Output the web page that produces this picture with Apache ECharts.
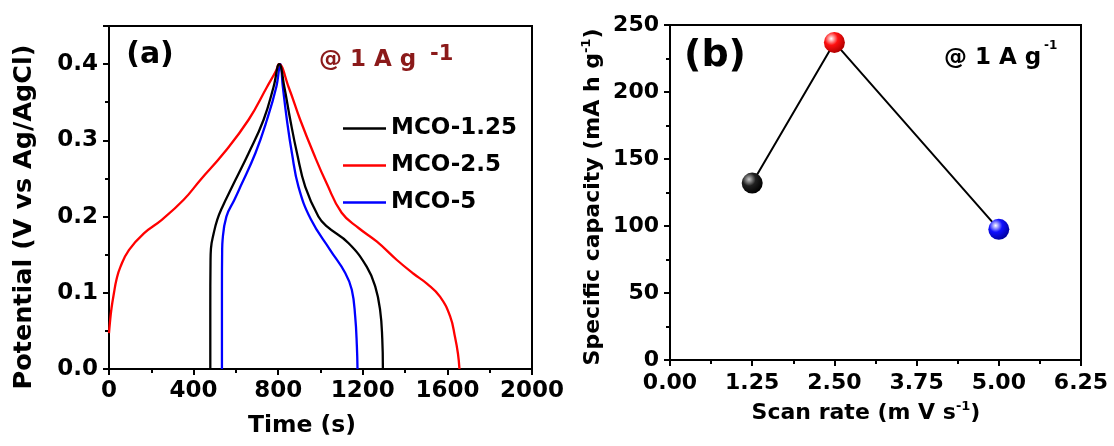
<!DOCTYPE html>
<html>
<head>
<meta charset="utf-8">
<script src="https://cdn.jsdelivr.net/npm/echarts@6/dist/echarts.min.js"></script>
<style>
html,body{margin:0;padding:0;background:#fff;}
#c{width:1114px;height:446px;}
</style>
</head>
<body>
<div id="c"></div>
<script>
// ---------- DATA ----------
const seriesNames = ['MCO-1.25', 'MCO-2.5', 'MCO-5'];

const timeBlack = [479, 479, 480, 482, 495, 512, 535, 582, 660, 731, 778, 805, 829, 857, 889, 928, 990, 1030, 1133, 1219, 1259, 1282, 1292, 1295];
const potBlack  = [0, 0.08, 0.14, 0.158, 0.178, 0.196, 0.212, 0.239, 0.283, 0.327, 0.37, 0.4, 0.37, 0.327, 0.283, 0.239, 0.2, 0.187, 0.165, 0.134, 0.108, 0.077, 0.04, 0];

const timeRed = [0, 4, 12, 23, 36, 54, 94, 165, 251, 353, 432, 542, 660, 747, 791, 803, 849, 904, 967, 1030, 1100, 1180, 1267, 1361, 1440, 1503, 1565, 1613, 1636, 1650, 1657];
const potRed  = [0.047, 0.06, 0.08, 0.099, 0.118, 0.134, 0.156, 0.178, 0.196, 0.222, 0.248, 0.283, 0.327, 0.37, 0.392, 0.4, 0.37, 0.327, 0.283, 0.243, 0.205, 0.185, 0.167, 0.143, 0.125, 0.112, 0.095, 0.069, 0.042, 0.02, 0];

const timeBlue = [534, 534, 535, 537, 555, 593, 621, 692, 747, 791, 810, 822, 841, 865, 896, 955, 1046, 1117, 1148, 1164, 1172, 1175];
const potBlue  = [0, 0.1, 0.155, 0.169, 0.2, 0.222, 0.239, 0.283, 0.327, 0.37, 0.4, 0.37, 0.327, 0.283, 0.239, 0.196, 0.156, 0.126, 0.104, 0.069, 0.03, 0];

const scanRate = [1.25, 2.5, 5.0];
const capacity = [132, 237, 97.5];

const timeTicks = [0, 400, 800, 1200, 1600, 2000];
const potTicks = ['0.0', '0.1', '0.2', '0.3', '0.4'];
const rateTicks = ['0.00', '1.25', '2.50', '3.75', '5.00', '6.25'];
const capTicks = [0, 50, 100, 150, 200, 250];

// ---------- STYLE ----------
const FONT = '"DejaVu Sans", "Liberation Sans", sans-serif';
const lineColors = ['#000000', '#ff0000', '#0000ff'];
const sphereStops = [
  ['#c8c8c8', '#202020', '#000000'],
  ['#ffffff', '#ff1010', '#b00000'],
  ['#ffffff', '#1010ff', '#0000a0']
];

function zip(a, b) { return a.map((v, i) => [v, b[i]]); }

function sphere(stops) {
  return new echarts.graphic.RadialGradient(0.35, 0.32, 0.7, [
    { offset: 0, color: stops[0] },
    { offset: 0.45, color: stops[1] },
    { offset: 1, color: stops[2] }
  ]);
}

const tickLine = { color: '#000', width: 2 };
function valueAxis(gridIndex, min, max, interval, fontSize, margin, fmt, extra) {
  return Object.assign({
    type: 'value',
    gridIndex: gridIndex,
    min: min, max: max, interval: interval,
    axisLine: { show: true, onZero: false, lineStyle: { color: '#000', width: 2 } },
    axisTick: { show: true, inside: false, length: 6, lineStyle: tickLine },
    minorTick: { show: true, splitNumber: 2, length: 4, lineStyle: tickLine },
    splitLine: { show: false },
    minorSplitLine: { show: false },
    axisLabel: {
      color: '#000', fontFamily: FONT, fontWeight: 'bold', fontSize: fontSize,
      margin: margin, formatter: fmt, showMaxLabel: true, showMinLabel: true
    }
  }, extra || {});
}

const chart = echarts.init(document.getElementById('c'));

const lineSeries = [
  zip(timeBlack, potBlack),
  zip(timeRed, potRed),
  zip(timeBlue, potBlue)
].map((d, i) => ({
  type: 'line',
  name: seriesNames[i],
  xAxisIndex: 0, yAxisIndex: 0,
  data: d,
  showSymbol: false, symbol: 'none',
  smooth: 0.45,
  lineStyle: { color: lineColors[i], width: 2.3 },
  itemStyle: { color: lineColors[i] },
  z: 3 - i
}));

const capSeries = {
  type: 'line',
  xAxisIndex: 1, yAxisIndex: 1,
  data: scanRate.map((x, i) => ({ value: [x, capacity[i]], itemStyle: { color: sphere(sphereStops[i]), borderWidth: 0 } })),
  symbol: 'circle', symbolSize: 21,
  lineStyle: { color: '#000', width: 2 },
  itemStyle: { color: '#000' },
  z: 5
};

function gtext(x, y, text, size, extra) {
  return {
    type: 'text', x: x, y: y, rotation: (extra && extra.rotation) || 0, z: 100,
    style: Object.assign({
      text: text, fontSize: size, fontFamily: FONT, fontWeight: 'bold', fill: '#000',
      textAlign: 'center', align: 'center', textVerticalAlign: 'middle', verticalAlign: 'middle'
    }, (extra && extra.style) || {})
  };
}
const supRich = {
  m: { fontSize: 22, fontFamily: FONT, fontWeight: 'bold', fill: '#000', lineHeight: 26 },
  s: { fontSize: 13, fontFamily: FONT, fontWeight: 'bold', fill: '#000', lineHeight: 13, verticalAlign: 'top' }
};

chart.setOption({
  animation: false,
  backgroundColor: '#fff',
  grid: [
    { left: 109, top: 26, width: 423, height: 343, show: true, borderColor: '#000', borderWidth: 2, backgroundColor: 'rgba(0,0,0,0)' },
    { left: 670, top: 25, width: 411, height: 335, show: true, borderColor: '#000', borderWidth: 2, backgroundColor: 'rgba(0,0,0,0)' }
  ],
  xAxis: [
    valueAxis(0, timeTicks[0], timeTicks[timeTicks.length - 1], timeTicks[1] - timeTicks[0], 23, 11, v => String(v)),
    valueAxis(1, 0, 6.25, 1.25, 22, 12, v => rateTicks[Math.round(v / 1.25)])
  ],
  yAxis: [
    valueAxis(0, 0, 0.45, 0.1, 23, 11, v => potTicks[Math.round(v * 10)] || ''),
    valueAxis(1, capTicks[0], capTicks[capTicks.length - 1], capTicks[1] - capTicks[0], 22, 11, v => String(v))
  ],
  legend: {
    data: seriesNames,
    orient: 'vertical',
    left: 338, top: 112,
    icon: 'rect',
    itemWidth: 43, itemHeight: 2.5, itemGap: 14,
    textStyle: { color: '#000', fontFamily: FONT, fontWeight: 'bold', fontSize: 23, lineHeight: 23 },
    selectedMode: false
  },
  series: lineSeries.concat([capSeries]),
  graphic: [
    gtext(150, 55, '(a)', 30),
    gtext(715, 56, '(b)', 38),
    gtext(319, 60, '@ 1 A g', 23, { style: { fill: '#8b1a1a', textAlign: 'left', align: 'left' } }),
    gtext(430, 55, '-1', 21, { style: { fill: '#8b1a1a', textAlign: 'left', align: 'left' } }),
    gtext(944, 58, '@ 1 A g', 23, { style: { textAlign: 'left', align: 'left' } }),
    gtext(1044, 46, '-1', 12, { style: { textAlign: 'left', align: 'left' } }),
    gtext(24, 217, 'Potential (V vs Ag/AgCl)', 25.5, { rotation: Math.PI / 2 }),
    gtext(302, 426, 'Time (s)', 23.5),
    gtext(593, 197, '{m|Specific capacity (mA h g}{s|-1}{m|)}', 22, { rotation: Math.PI / 2, style: { rich: supRich } }),
    gtext(866, 413, '{m|Scan rate (m V s}{s|-1}{m|)}', 22, { style: { rich: supRich } })
  ]
});
</script>
</body>
</html>
